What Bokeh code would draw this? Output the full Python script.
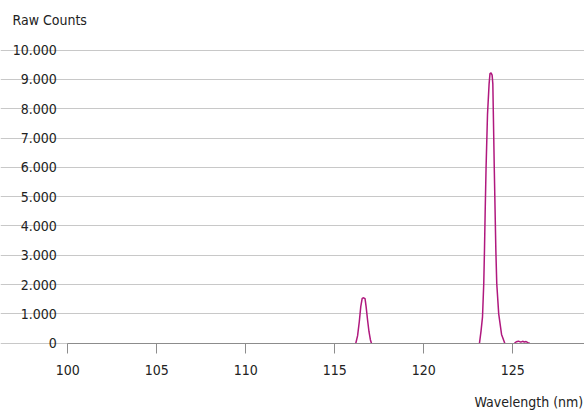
from bokeh.plotting import figure
from bokeh.models import Range1d, FixedTicker, Label
from bokeh.embed import file_html
from bokeh.resources import INLINE

# Data (wavelength in nm, raw counts)
peak1_x = [116.18, 116.28, 116.38, 116.46, 116.54, 116.62, 116.70, 116.76, 116.84, 116.92, 117.00, 117.06]
peak1_y = [0, 250, 750, 1250, 1530, 1550, 1520, 1250, 800, 400, 120, 0]

peak2_x = [123.13, 123.22, 123.30, 123.37, 123.41, 123.45, 123.50, 123.58, 123.67, 123.72, 123.78, 123.84,
           123.88, 123.96, 124.05, 124.10, 124.21, 124.37, 124.55]
peak2_y = [0, 430, 900, 2040, 3160, 4500, 6000, 7800, 8850, 9200, 9225, 9150,
           8850, 6000, 3160, 2040, 1000, 300, 0]

peak3_x = [125.10, 125.20, 125.32, 125.45, 125.55, 125.65, 125.75, 125.85, 125.95]
peak3_y = [0, 50, 70, 35, 65, 40, 55, 20, 0]

x_ticks = [100, 105, 110, 115, 120, 125]
y_ticks = [0, 1000, 2000, 3000, 4000, 5000, 6000, 7000, 8000, 9000, 10000]
y_tick_labels = ["0", "1.000", "2.000", "3.000", "4.000", "5.000", "6.000", "7.000", "8.000", "9.000", "10.000"]

FONT = "DejaVu Sans Condensed"
TXT = "#222222"
LINE = "#B0187E"
X0, X1 = 100, 129.03

p = figure(width=584, height=412, output_backend="svg", toolbar_location=None,
           x_range=Range1d(96.219, X1), y_range=Range1d(-2365, 11696),
           min_border_left=0, min_border_right=0, min_border_top=0, min_border_bottom=0)
p.outline_line_color = None
p.background_fill_color = "white"

for xs, ys in [(peak1_x, peak1_y), (peak2_x, peak2_y), (peak3_x, peak3_y)]:
    p.line(xs, ys, line_color=LINE, line_width=1.5)

p.xgrid.grid_line_color = None
p.ygrid.ticker = FixedTicker(ticks=y_ticks)
p.ygrid.bounds = (X0, X1)
p.ygrid.grid_line_color = "#c8c8c8"
p.ygrid.grid_line_width = 1

p.xaxis.fixed_location = 0
p.xaxis.bounds = (X0, X1)
p.xaxis.ticker = FixedTicker(ticks=x_ticks)
p.xaxis.axis_line_color = "#8c8c8c"
p.xaxis.major_tick_line_color = "#8c8c8c"
p.xaxis.major_tick_in = 0
p.xaxis.major_tick_out = 10
p.xaxis.minor_tick_line_color = None
p.xaxis.major_label_standoff = 12
p.xaxis.major_label_text_font = FONT
p.xaxis.major_label_text_font_size = "14px"
p.xaxis.major_label_text_color = TXT

p.yaxis.fixed_location = X0
p.yaxis.ticker = FixedTicker(ticks=y_ticks)
p.yaxis.major_label_overrides = {t: l for t, l in zip(y_ticks, y_tick_labels)}
p.yaxis.axis_line_color = None
p.yaxis.major_tick_line_color = None
p.yaxis.minor_tick_line_color = None
p.yaxis.major_label_standoff = 5
p.yaxis.major_label_text_font = FONT
p.yaxis.major_label_text_font_size = "14px"
p.yaxis.major_label_text_color = TXT

p.add_layout(Label(x=96.893, y=11014, text="Raw Counts", text_font=FONT, text_font_size="14px",
                   text_color=TXT, text_baseline="middle", text_align="left"))
p.add_layout(Label(x=122.85, y=-1990, text="Wavelength (nm)", text_font=FONT, text_font_size="14px",
                   text_color=TXT, text_baseline="middle", text_align="left"))

open("out.html", "w").write(file_html(p, INLINE))
